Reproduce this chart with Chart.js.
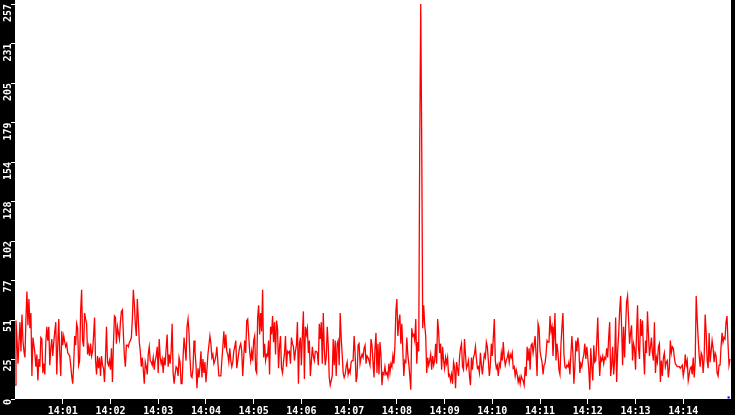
<!DOCTYPE html>
<html>
<head>
<meta charset="utf-8">
<script src="https://cdn.jsdelivr.net/npm/chart.js@4.4.1/dist/chart.umd.min.js"></script>
<style>
  html, body { margin: 0; padding: 0; background: #000; }
  #wrap { width: 735px; height: 415px; }
</style>
</head>
<body>
<div id="wrap"><canvas id="rateChart"></canvas></div>
<script>
// one reading every 1.25 s, first one at 14:00:00
const sampleSeconds = 1.25;

const rateValues = [
  9,51,39,23,37,50,31,55,38,31, 27,52,70,48,65,46,56,15,40,35,
  30,21,29,12,26,21,40,39,17,23, 16,37,47,38,47,22,33,39,28,37,
  44,50,16,35,52,30,15,44,35,41, 37,34,36,30,29,28,22,15,10,22,
  41,35,49,46,22,25,57,71,38,34, 56,52,49,29,34,28,36,28,31,41,
  53,25,16,28,20,27,15,28,22,20, 11,27,47,24,22,25,19,33,11,36,
  54,53,36,47,43,39,50,57,58,42, 28,21,35,35,34,37,38,40,52,71,
  62,49,41,65,52,37,31,21,27,19, 10,24,21,16,29,34,25,24,22,27,
  19,25,28,34,17,39,27,23,26,17, 27,22,33,42,21,29,23,31,49,17,
  10,16,21,20,15,27,24,10,10,27, 40,33,25,47,52,43,26,15,14,20,

  38,31,22,7,20,14,21,31,14,26, 17,24,11,19,29,35,41,36,27,29,
  23,25,28,34,24,15,15,15,25,34, 44,33,42,31,29,24,33,25,21,24,
  31,34,38,20,25,30,34,36,31,15, 27,38,30,51,52,41,31,25,31,25,
  38,41,19,17,53,61,42,56,44,71, 27,36,25,29,28,38,16,47,42,54,
  37,50,29,51,46,20,34,41,20,17, 24,30,41,21,31,30,31,23,40,36,
  34,25,31,35,50,10,36,40,22,42, 57,13,47,42,46,30,38,15,24,34,
  28,25,31,31,30,22,49,39,50,23, 56,33,22,27,47,35,14,9,12,15,
  39,22,38,15,36,38,22,56,40,29, 17,14,16,21,24,16,19,17,24,25,
  25,41,30,11,15,35,36,23,27,29, 27,33,35,23,28,27,25,22,39,35,

  24,14,33,43,17,36,16,37,29,9, 17,16,21,16,17,14,23,17,23,21,
  28,23,34,57,65,41,50,55,36,49, 31,15,25,24,40,29,23,15,6,46,
  41,42,38,52,23,37,31,168,257,166, 46,61,48,41,17,27,22,25,29,19,
  28,22,25,36,23,52,44,30,36,19, 34,25,20,27,23,27,15,16,12,16,
  10,24,21,7,24,20,15,27,33,36, 21,19,39,29,20,22,25,15,9,27,
  19,27,29,34,26,20,21,17,30,22, 16,23,29,27,37,34,25,15,22,36,
  28,40,52,25,20,22,15,23,21,30, 25,37,27,22,25,27,30,24,29,27,
  30,20,21,15,19,16,11,14,10,15, 13,12,9,21,15,34,25,33,19,35,
  36,30,35,41,29,15,49,46,31,27, 24,16,22,23,29,38,37,37,54,44,

  47,28,40,56,25,36,30,19,16,35, 47,56,29,21,20,22,21,24,16,29,
  41,30,10,21,38,31,40,34,17,23, 21,26,29,36,26,34,27,19,6,33,
  21,12,35,24,25,37,53,30,15,27, 25,28,23,27,26,33,27,40,50,15,
  22,34,16,25,53,11,31,42,57,67, 47,22,47,27,47,63,67,52,36,43,
  48,25,36,33,19,42,61,33,26,52, 41,51,31,16,38,30,57,42,28,34,
  40,30,25,50,17,27,24,34,36,11, 25,15,27,30,21,24,25,14,20,38,
  30,34,33,27,23,22,21,21,21,20, 21,22,15,19,29,22,25,12,16,20,
  21,16,27,14,24,67,52,39,28,21, 30,28,17,27,55,44,25,20,43,24,
  31,38,33,24,30,28,17,15,22,22, 34,43,37,40,39,50,54,36,22,26
];

const xTickSeconds = [60, 120, 180, 240, 300, 360, 420, 480, 540, 600, 660, 720, 780, 840];
const xTickLabels = ["14:01", "14:02", "14:03", "14:04", "14:05", "14:06", "14:07",
                     "14:08", "14:09", "14:10", "14:11", "14:12", "14:13", "14:14"];
const yTickValues = [0, 25.7, 51.4, 77.1, 102.8, 128.5, 154.2, 179.9, 205.6, 231.3, 257];
const yTickLabels = ["0", "25", "51", "77", "102", "128", "154", "179", "205", "231", "257"];

// little blue cursor mark at the right end
const cursorPoints = [{ x: 897, y: 1 }];

const points = rateValues.map((v, i) => ({ x: i * sampleSeconds, y: v }));

const labelFont = { family: "'DejaVu Sans Mono', monospace", size: 10, weight: "bold", lineHeight: 1 };

// black frame round a white plot area
const plotBackground = {
  id: "plotBackground",
  beforeDraw(chart) {
    const ctx = chart.ctx;
    const area = chart.chartArea;
    ctx.save();
    ctx.fillStyle = "#000";
    ctx.fillRect(0, 0, chart.width, chart.height);
    ctx.fillStyle = "#fff";
    ctx.fillRect(area.left, 0, area.right - area.left, area.bottom);
    ctx.restore();
  }
};

new Chart(document.getElementById("rateChart"), {
  type: "line",
  data: {
    datasets: [{
      data: points,
      borderColor: "#ff0000",
      borderWidth: 1.3,
      pointRadius: 0,
      tension: 0,
      fill: false
    }, {
      data: cursorPoints,
      showLine: false,
      pointRadius: 1.5,
      pointStyle: "rect",
      backgroundColor: "#0000ff",
      borderColor: "#0000ff",
      borderWidth: 0
    }]
  },
  plugins: [plotBackground],
  options: {
    responsive: true,
    maintainAspectRatio: false,
    animation: false,
    layout: { padding: { top: 1, left: 0, right: 0, bottom: 0 } },
    plugins: {
      legend: { display: false },
      tooltip: { enabled: false }
    },
    scales: {
      x: {
        type: "linear",
        min: 0,
        max: 900,
        afterBuildTicks: scale => { scale.ticks = xTickSeconds.map(v => ({ value: v })); },
        afterFit: scale => {
          scale.height = 16;
          scale.paddingLeft = 0;
          scale.paddingRight = 0;
        },
        grid: { drawOnChartArea: false, drawTicks: true, tickLength: 5, tickColor: "#fff", tickWidth: 1 },
        border: { display: false },
        ticks: {
          autoSkip: false,
          maxRotation: 0,
          padding: 2,
          color: "#fff",
          font: labelFont,
          callback: (value, index) => xTickLabels[index]
        }
      },
      y: {
        type: "linear",
        min: 0,
        max: 257,
        afterBuildTicks: scale => { scale.ticks = yTickValues.map(v => ({ value: v })); },
        afterFit: scale => {
          scale.width = 15;
          scale.paddingTop = 0;
          scale.paddingBottom = 0;
        },
        grid: { drawOnChartArea: false, drawTicks: true, tickLength: 4, tickColor: "#fff", tickWidth: 1 },
        border: { display: false },
        ticks: {
          autoSkip: false,
          minRotation: 90,
          maxRotation: 90,
          padding: 3,
          color: "#fff",
          font: labelFont,
          callback: (value, index) => yTickLabels[index]
        }
      }
    }
  }
});
</script>
</body>
</html>
